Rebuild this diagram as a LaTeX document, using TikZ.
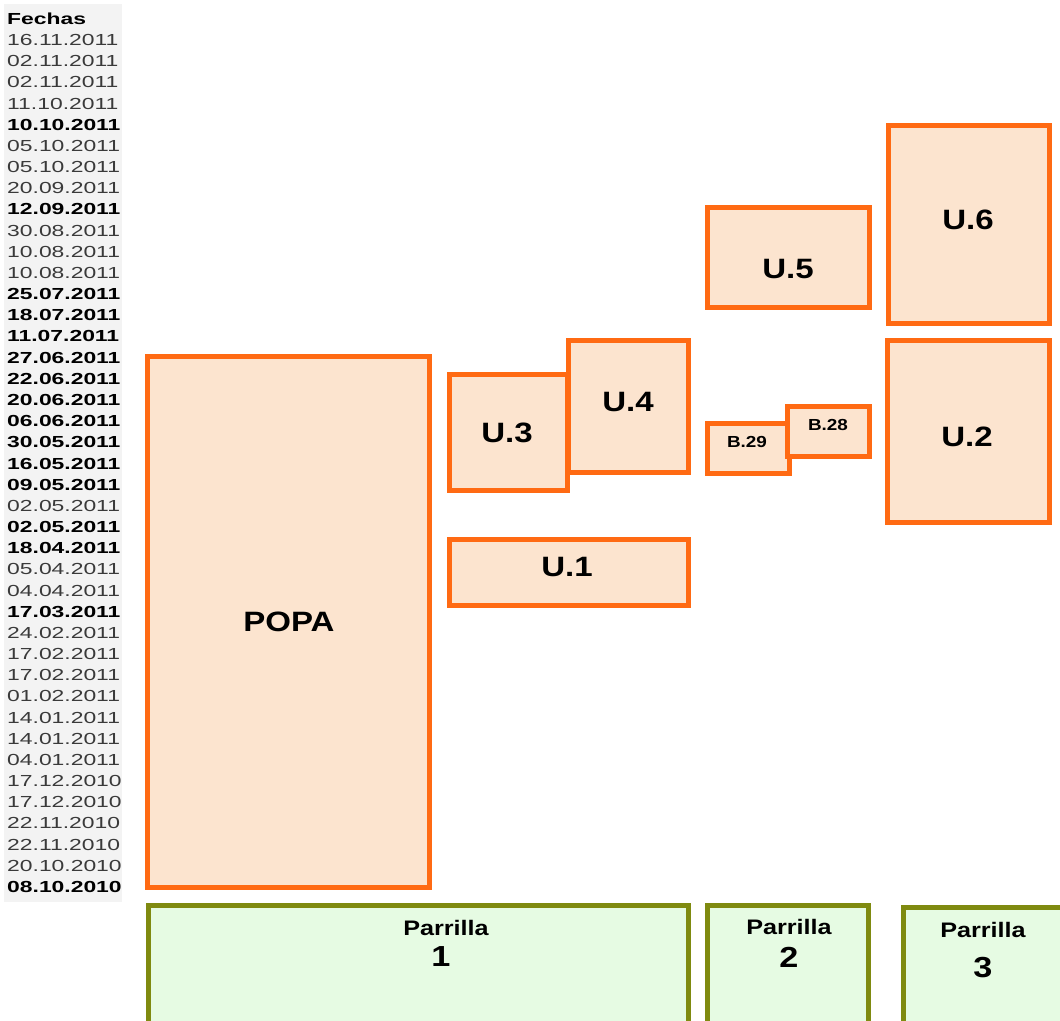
\documentclass[tikz,border=0pt]{standalone}
\usepackage{fontspec}
\newfontfamily\datefont[FakeStretch=1.43]{Liberation Sans}
\newfontfamily\lblfont[FakeStretch=1.18]{Liberation Sans}
\newfontfamily\parfont[FakeStretch=1.2]{Liberation Sans}
\definecolor{boxorange}{HTML}{FF6A13}
\definecolor{peach}{HTML}{FCE4CF}
\definecolor{olive}{HTML}{7F8A10}
\definecolor{lightgreen}{HTML}{E6FBE3}
\definecolor{datebg}{HTML}{F3F3F3}
\definecolor{dategray}{HTML}{3A3A3A}
\begin{document}
\begin{tikzpicture}[x=1pt,y=-1pt,
  obox/.style={draw=boxorange, fill=peach, line width=5pt, rectangle, inner sep=0pt, outer sep=0pt},
  gbox/.style={draw=olive, fill=lightgreen, line width=5pt, rectangle, inner sep=0pt, outer sep=0pt},
  datelbl/.style={anchor=west, inner sep=0pt, font=\datefont\fontsize{16}{18}\selectfont},
  biglbl/.style={inner sep=0pt, font=\lblfont\bfseries\fontsize{28}{30}\selectfont},
  smalllbl/.style={inner sep=0pt, font=\lblfont\bfseries\fontsize{16}{18}\selectfont},
  parlbl/.style={inner sep=0pt, font=\parfont\bfseries\fontsize{21}{23}\selectfont},
  numlbl/.style={inner sep=0pt, font=\lblfont\bfseries\fontsize{29}{31}\selectfont}]
\useasboundingbox (0,0) rectangle (1060,1020);
\fill[white] (0,0) rectangle (1060,1020);
% date column background
\fill[datebg] (4,4) rectangle (122,902);
\node[datelbl, font=\datefont\bfseries\fontsize{16}{18}\selectfont] (fechas) at (7,18.5) {Fechas};
\foreach \t/\b [count=\i] in {
 16.11.2011/0, 02.11.2011/0, 02.11.2011/0, 11.10.2011/0, 10.10.2011/1,
 05.10.2011/0, 05.10.2011/0, 20.09.2011/0, 12.09.2011/1, 30.08.2011/0,
 10.08.2011/0, 10.08.2011/0, 25.07.2011/1, 18.07.2011/1, 11.07.2011/1,
 27.06.2011/1, 22.06.2011/1, 20.06.2011/1, 06.06.2011/1, 30.05.2011/1,
 16.05.2011/1, 09.05.2011/1, 02.05.2011/0, 02.05.2011/1, 18.04.2011/1,
 05.04.2011/0, 04.04.2011/0, 17.03.2011/1, 24.02.2011/0, 17.02.2011/0,
 17.02.2011/0, 01.02.2011/0, 14.01.2011/0, 14.01.2011/0, 04.01.2011/0,
 17.12.2010/0, 17.12.2010/0, 22.11.2010/0, 22.11.2010/0, 20.10.2010/0,
 08.10.2010/1}{
  \ifnum\b=1
    \node[datelbl, text=black] (d\i) at (7,{40+(\i-1)*21.175}) {\bfseries\t};
  \else
    \node[datelbl, text=dategray] (d\i) at (7,{40+(\i-1)*21.175}) {\t};
  \fi
}
% orange boxes
\node[obox, minimum width=282pt, minimum height=531pt] (popa) at (288.5,622) {};
\node[obox, minimum width=118pt, minimum height=116pt] (u3) at (508.5,432.5) {};
\node[obox, minimum width=120pt, minimum height=132pt] (u4) at (628.5,406.5) {};
\node[obox, minimum width=239pt, minimum height=66pt] (u1) at (569,572.5) {};
\node[obox, minimum width=162pt, minimum height=100pt] (u5) at (788.5,257.5) {};
\node[obox, minimum width=161pt, minimum height=198pt] (u6) at (969,224.5) {};
\node[obox, minimum width=162pt, minimum height=182pt] (u2) at (968.5,431.5) {};
\node[obox, minimum width=82pt, minimum height=50pt] (b29) at (748.5,448.5) {};
\node[obox, minimum width=82pt, minimum height=50pt] (b28) at (828.5,431.5) {};
% labels
\node[biglbl] (popalbl) at (289,622) {POPA};
\node[biglbl] (u3lbl) at (507,433) {U.3};
\node[biglbl] (u4lbl) at (628,402) {U.4};
\node[biglbl] (u1lbl) at (567,567) {U.1};
\node[biglbl] (u5lbl) at (788,269) {U.5};
\node[biglbl] (u6lbl) at (968,220) {U.6};
\node[biglbl] (u2lbl) at (967,437) {U.2};
\node[smalllbl] (b29lbl) at (747,442) {B.29};
\node[smalllbl] (b28lbl) at (828,425) {B.28};
% green boxes
\node[gbox, minimum width=540pt, minimum height=122pt] (p1) at (418.5,966.5) {};
\node[gbox, minimum width=161pt, minimum height=122pt] (p2) at (788,966.5) {};
\node[gbox, minimum width=164pt, minimum height=120pt] (p3) at (985.5,967.5) {};
\node[parlbl] (p1a) at (446,928) {Parrilla};
\node[numlbl] (p1b) at (441,957) {1};
\node[parlbl] (p2a) at (789,927) {Parrilla};
\node[numlbl] (p2b) at (789,957) {2};
\node[parlbl] (p3a) at (983,930) {Parrilla};
\node[numlbl] (p3b) at (983,968) {3};
\end{tikzpicture}
\end{document}
